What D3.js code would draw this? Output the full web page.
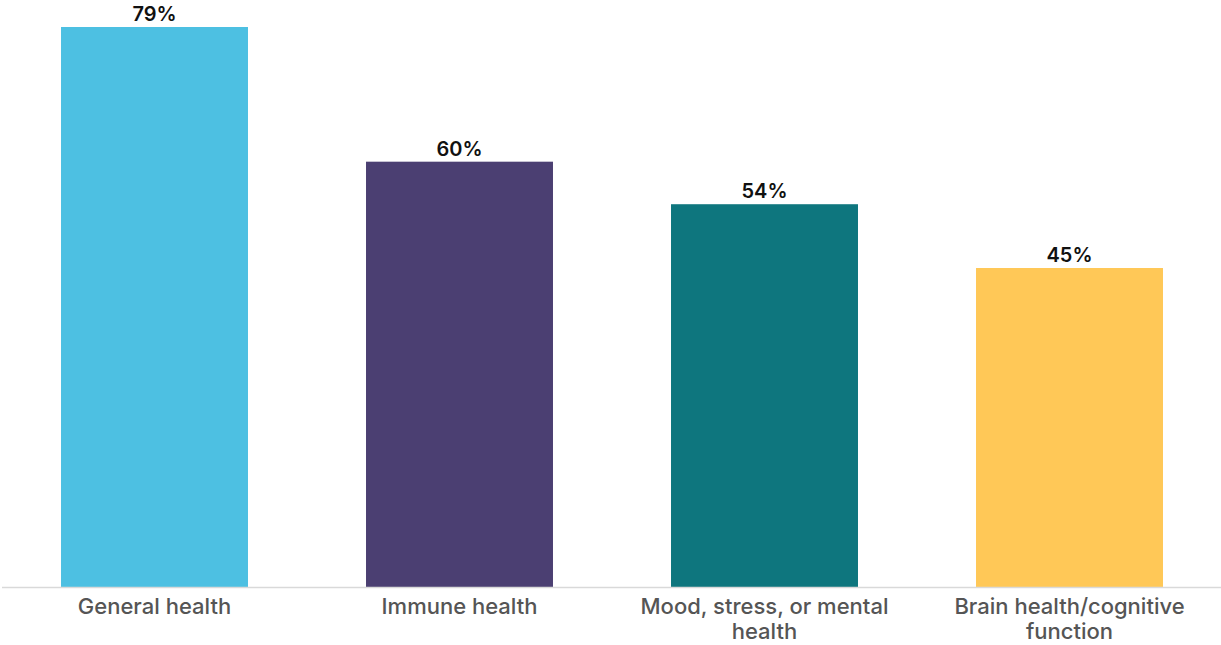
<!DOCTYPE html>
<html>
<head>
<meta charset="utf-8">
<script src="https://cdn.jsdelivr.net/npm/d3@7"></script>
<style>
  html, body { margin: 0; padding: 0; background: #fff; }
  svg { display: block; }
</style>
</head>
<body>
<svg id="chart" width="1221" height="645"></svg>
<script>
// Share of respondents citing each health benefit
const categories = ["General health", "Immune health", "Mood, stress, or mental health", "Brain health/cognitive function"];
const values = [79, 60, 54, 45];
const labelLines = [["General health"], ["Immune health"], ["Mood, stress, or mental", "health"], ["Brain health/cognitive", "function"]];
const colors = ["#4DC0E2", "#4B3F72", "#0E767E", "#FFC857"];

const svg = d3.select("#chart");
const width = 1221, height = 645;
const baseY = 587;

const x = d3.scaleBand()
  .domain(categories)
  .range([2, 1222])
  .paddingInner(0.387)
  .paddingOuter(0.1935);

const y = d3.scaleLinear()
  .domain([0, 79])
  .range([baseY, 27]);

// Bars
svg.selectAll("rect.bar")
  .data(categories)
  .join("rect")
  .attr("class", "bar")
  .attr("x", d => x(d))
  .attr("y", (d, i) => y(values[i]))
  .attr("width", x.bandwidth())
  .attr("height", (d, i) => baseY - y(values[i]))
  .attr("fill", (d, i) => colors[i]);

// Baseline
svg.append("line")
  .attr("x1", 2).attr("x2", width)
  .attr("y1", baseY + 0.5).attr("y2", baseY + 0.5)
  .attr("stroke", "#d9d9d9")
  .attr("stroke-width", 1.5);

// Value labels
svg.selectAll("text.value")
  .data(categories)
  .join("text")
  .attr("class", "value")
  .attr("x", d => x(d) + x.bandwidth() / 2)
  .attr("y", (d, i) => y(values[i]) - 6)
  .attr("text-anchor", "middle")
  .attr("font-family", "Inter, 'Open Sans', sans-serif")
  .attr("font-weight", 600)
  .attr("font-size", 20)
  .attr("fill", "#111")
  .text((d, i) => values[i] + "%");

// Category labels
const cat = svg.selectAll("text.cat")
  .data(categories)
  .join("text")
  .attr("class", "cat")
  .attr("text-anchor", "middle")
  .attr("font-family", "Inter, 'Open Sans', sans-serif")
  .attr("font-weight", 500)
  .attr("font-size", 22)
  .attr("fill", "#555");

cat.selectAll("tspan")
  .data((d, i) => labelLines[i].map(t => ({ t, cx: x(d) + x.bandwidth() / 2 })))
  .join("tspan")
  .attr("x", d => d.cx)
  .attr("y", (d, j) => 614 + j * 25)
  .text(d => d.t);
</script>
</body>
</html>
